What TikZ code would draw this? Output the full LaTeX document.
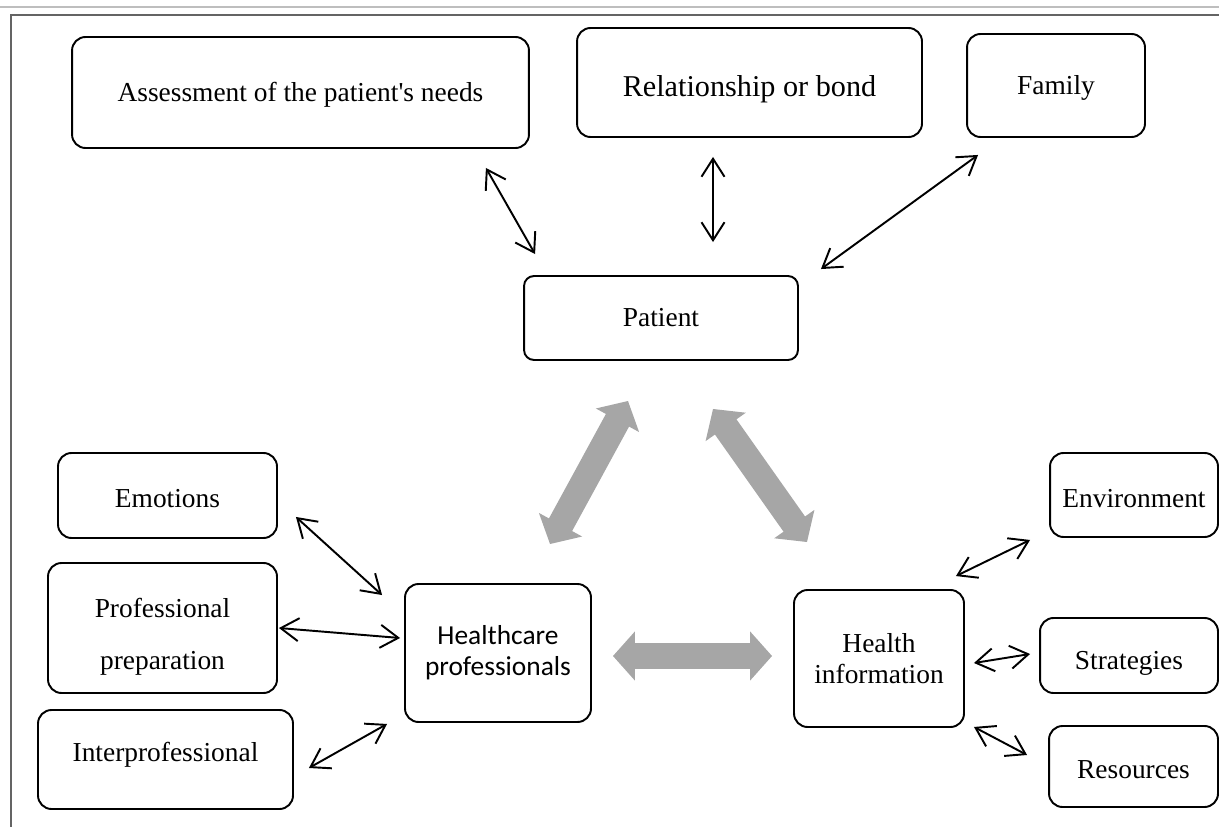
\documentclass[tikz,border=0pt]{standalone}
\usepackage{fontspec}
\setmainfont{Liberation Serif}
\newfontfamily\carlito{Carlito}
\usetikzlibrary{arrows.meta}
\definecolor{166_166_166}{RGB}{166, 166, 166}
\definecolor{190_190_190}{RGB}{190, 190, 190}
\definecolor{100_100_100}{RGB}{100, 100, 100}

\begin{document}
\begin{tikzpicture}[
        x=0.02cm, y=-0.02cm,
        box/.style={
            draw, line width=1.1pt, rounded corners=0.27cm,
            align=center, inner sep=2pt,
            font=\fontsize{15.6}{17.5}\selectfont
        },
        oneline/.style={text height=14pt},
        conn/.style={
            line width=1.1pt,
            {Straight Barb[length=0.36cm, width=0.46cm]}-{Straight Barb[length=0.36cm, width=0.46cm]}
        },
        bigarrow/.style={
            draw=166_166_166, line width=15pt,
            {Triangle[length=0.44cm, width=0.96cm]}-{Triangle[length=0.44cm, width=0.96cm]}
        }
    ]
    \useasboundingbox (0,0) rectangle (1219,827);
    \draw[190_190_190, line width=0.8pt] (0,7) -- (1219,7);
    \draw[100_100_100, line width=0.9pt] (1219,15) -- (11,15) -- (11,827);

        \node[box, oneline, minimum width=9.14cm, minimum height=2.22cm] (assess) at (300.5,92.5) {Assessment of the patient\textquotesingle s needs};
        \node[box, minimum width=6.9cm, minimum height=2.18cm, text height=20pt, font=\fontsize{17.2}{19}\selectfont] (bond) at (749.5,82.5) {Relationship or bond};
        \node[box, oneline, minimum width=3.56cm, minimum height=2.06cm] (family) at (1056,85.5) {Family};
        \node[box, minimum width=5.48cm, minimum height=1.68cm, rounded corners=0.2cm] (patient) at (661,318) {Patient};

        \node[box, oneline, minimum width=4.38cm, minimum height=1.7cm] (emotions) at (167.5,495.5) {Emotions};
        \node[box, minimum width=4.58cm, minimum height=2.6cm] (preparation) at (162.5,628) {\rule{0pt}{21pt}Professional\\[12pt]preparation};
        \node[box, minimum width=5.1cm, minimum height=1.98cm, text depth=0.3cm] (interprof) at (165.5,759.5) {Interprofessional};
        \node[box, minimum width=3.72cm, minimum height=2.76cm, font=\carlito\fontsize{15.6}{17.5}\selectfont] (professionals) at (498,653) {Healthcare\\professionals};

        \node[box, minimum width=3.4cm, minimum height=2.74cm] (information) at (879,658.5) {Health\\information};
        \node[box, oneline, minimum width=3.36cm, minimum height=1.68cm] (environment) at (1134,495) {Environment};
        \node[box, minimum width=3.56cm, minimum height=1.5cm, text height=19pt] (strategies) at (1129,655.5) {Strategies};
        \node[box, oneline, minimum width=3.38cm, minimum height=1.62cm] (resources) at (1133.5,766.5) {Resources};

    \draw[conn] ([shift={(-44,19)}]assess.south east) -- ([shift={(12,-21)}]patient.north west);
    \draw[conn] ([shift={(-36.5,19)}]bond.south) -- ([shift={(52,-33)}]patient.north);
    \draw[conn] ([shift={(12,17)}]family.south west) -- ([shift={(22,-6)}]patient.north east);

    \draw[conn] ([shift={(18,-22)}]emotions.south east) -- ([shift={(-22,12)}]professionals.north west);
    \draw[conn] ([shift={(1,0)}]preparation.east) -- ([shift={(-4,-15)}]professionals.west);
    \draw[conn] ([shift={(15,8.5)}]interprof.east) -- ([shift={(-17,1)}]professionals.south west);

    \draw[conn] ([shift={(-9,-13)}]information.north east) -- ([shift={(-19,2)}]environment.south west);
    \draw[conn] ([shift={(9,4.5)}]information.east) -- ([shift={(-9,-1.5)}]strategies.west);
    \draw[conn] ([shift={(9,-1)}]information.south east) -- ([shift={(-21,-11.5)}]resources.west);

    \draw[bigarrow] ([shift={(52,-39)}]professionals.north) -- ([shift={(-33,40)}]patient.south);
    \draw[bigarrow] ([shift={(52,48)}]patient.south) -- ([shift={(-72,-47)}]information.north);
    \draw[bigarrow] ([shift={(21,3)}]professionals.east) -- ([shift={(-21,-2.5)}]information.west);
\end{tikzpicture}
\end{document}
